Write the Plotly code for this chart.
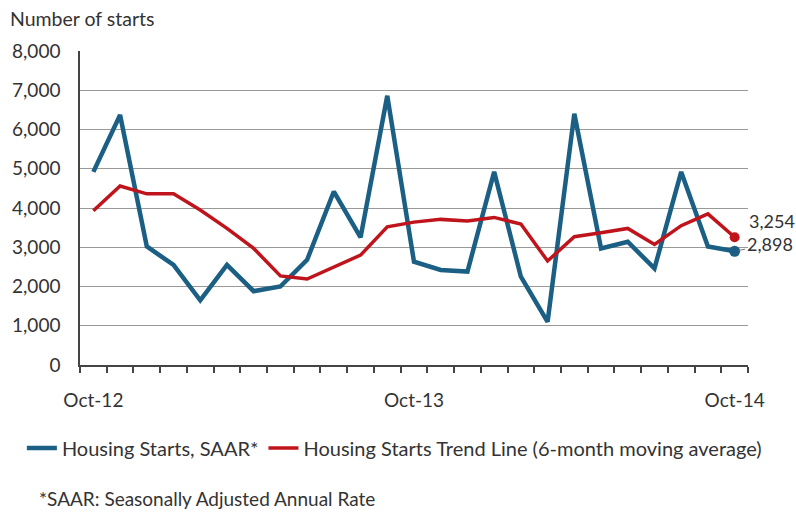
import plotly.graph_objects as go

months = ["Oct-12", "Nov-12", "Dec-12", "Jan-13", "Feb-13", "Mar-13", "Apr-13", "May-13",
          "Jun-13", "Jul-13", "Aug-13", "Sep-13", "Oct-13", "Nov-13", "Dec-13", "Jan-14",
          "Feb-14", "Mar-14", "Apr-14", "May-14", "Jun-14", "Jul-14", "Aug-14", "Sep-14", "Oct-14"]
starts_saar = [4920, 6370, 3020, 2550, 1650, 2550, 1880, 2000, 2680, 4420, 3250, 6860,
               2630, 2420, 2380, 4920, 2250, 1100, 6400, 2970, 3140, 2460, 4920, 3020, 2898]
trend_6m = [3930, 4560, 4360, 4360, 3950, 3480, 2970, 2270, 2190, 2500, 2800, 3520,
            3640, 3710, 3670, 3760, 3590, 2650, 3270, 3370, 3480, 3070, 3550, 3850, 3254]
shown_ticks = ["Oct-12", "Oct-13", "Oct-14"]
y_ticks = [0, 1000, 2000, 3000, 4000, 5000, 6000, 7000, 8000]

BLUE = "#1b5f84"
RED = "#c0141c"
FONT = "Lato, 'Open Sans', sans-serif"
TXT = "#333333"

fig = go.Figure()
fig.add_trace(go.Scatter(x=months, y=starts_saar, mode="lines", name="Housing Starts, SAAR*",
                         line=dict(color=BLUE, width=4.5)))
fig.add_trace(go.Scatter(x=months, y=trend_6m, mode="lines",
                         name="Housing Starts Trend Line (6-month moving average)",
                         line=dict(color=RED, width=3.5)))
# end markers
fig.add_trace(go.Scatter(x=[months[-1]], y=[starts_saar[-1]], mode="markers", showlegend=False,
                         marker=dict(color=BLUE, size=11), cliponaxis=False))
fig.add_trace(go.Scatter(x=[months[-1]], y=[trend_6m[-1]], mode="markers", showlegend=False,
                         marker=dict(color=RED, size=10), cliponaxis=False))

fig.add_annotation(x=months[-1], y=trend_6m[-1], text=f"{trend_6m[-1]:,}", showarrow=False,
                   xanchor="left", xshift=12, yshift=16, font=dict(size=18, color=TXT, family=FONT))
fig.add_annotation(x=months[-1], y=starts_saar[-1], text=f"{starts_saar[-1]:,}", showarrow=True,
                   arrowhead=0, arrowcolor="#777", arrowwidth=1, ax=35, ay=-7, standoff=4,
                   font=dict(size=18, color=TXT, family=FONT))

fig.add_annotation(xref="paper", yref="paper", x=-0.108, y=1.105, xanchor="left", yanchor="middle",
                   text="Number of starts", showarrow=False, font=dict(size=19.5, color=TXT, family=FONT))
fig.add_annotation(xref="paper", yref="paper", x=-0.0644, y=-0.424, xanchor="left", yanchor="middle",
                   text="*SAAR: Seasonally Adjusted Annual Rate", showarrow=False,
                   font=dict(size=19, color=TXT, family=FONT))

fig.update_layout(
    width=796, height=512,
    margin=dict(l=80, r=48, t=51, b=147, autoexpand=False),
    paper_bgcolor="white", plot_bgcolor="white",
    font=dict(family=FONT, color=TXT, size=19),
    legend=dict(orientation="h", x=-0.087, y=-0.264, xanchor="left", yanchor="middle",
                font=dict(size=20, color=TXT, family=FONT), itemwidth=30,
                bgcolor="rgba(0,0,0,0)"),
)
fig.update_xaxes(type="category", tickson="boundaries", ticks="outside", ticklen=6,
                 tickcolor="#444", tickwidth=1.5, tickangle=0, automargin=False,
                 tickvals=months, ticktext=[m if m in shown_ticks else "" for m in months],
                 ticklabelstandoff=17,
                 showline=True, linecolor="#444", linewidth=1.5, showgrid=False,
                 tickfont=dict(size=19, color=TXT, family=FONT), range=[-0.5, 24.5])
fig.update_yaxes(range=[0, 8000], tickvals=y_ticks, ticktext=[f"{v:,}" for v in y_ticks],
                 showline=True, linecolor="#444", linewidth=1.5, showgrid=True,
                 gridcolor="#999", gridwidth=1.2, zeroline=False, ticks="", automargin=False,
                 ticklabelstandoff=14,
                 tickfont=dict(size=19, color=TXT, family=FONT))

fig.write_html("out.html", config={"displayModeBar": False},
               post_script="document.body.style.margin='0';")
